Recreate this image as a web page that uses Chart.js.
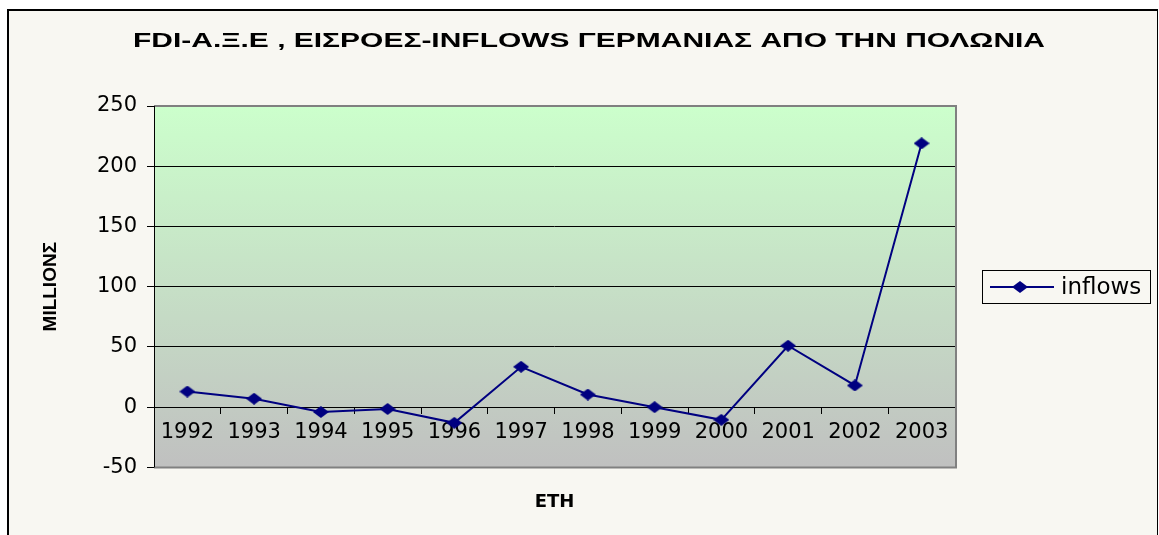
<!DOCTYPE html>
<html>
<head>
<meta charset="utf-8">
<script src="https://cdn.jsdelivr.net/npm/chart.js@4.4.1/dist/chart.umd.min.js"></script>
<style>
html,body{margin:0;padding:0;background:#ffffff;}
#wrap{position:absolute;left:0;top:0;width:1159px;height:535px;}
</style>
</head>
<body>
<div id="wrap"><canvas id="c" width="1159" height="535"></canvas></div>
<script>
const chartTitle = "FDI-Α.Ξ.Ε , ΕΙΣΡΟΕΣ-INFLOWS ΓΕΡΜΑΝΙΑΣ ΑΠΟ ΤΗΝ ΠΟΛΩΝΙΑ";
const yAxisTitle = "MILLIONΣ";
const xAxisTitle = "ΕΤΗ";
const seriesName = "inflows";
const years = ["1992","1993","1994","1995","1996","1997","1998","1999","2000","2001","2002","2003"];
const inflows = [13, 7, -4, -1.5, -13, 33.5, 10.5, 0, -10.5, 51, 18, 219];
const yTicks = [-50, 0, 50, 100, 150, 200, 250];

const NAVY = '#000080';

// diamond marker image (wider than tall, like the original)
function makeDiamond(w, h) {
  const c = document.createElement('canvas');
  c.width = w; c.height = h;
  const g = c.getContext('2d');
  g.fillStyle = NAVY;
  g.beginPath();
  g.moveTo(w/2, 0); g.lineTo(w, h/2); g.lineTo(w/2, h); g.lineTo(0, h/2);
  g.closePath(); g.fill();
  return c;
}
const diamond = makeDiamond(16, 12);

const framePlugin = {
  id: 'frame',
  beforeDraw(chart) {
    const ctx = chart.ctx;
    ctx.save();
    ctx.fillStyle = '#ffffff';
    ctx.fillRect(0, 0, chart.width, chart.height);
    ctx.fillStyle = '#f8f7f2';
    ctx.fillRect(9, 10, 1148, chart.height - 10);
    ctx.fillStyle = '#000000';
    ctx.fillRect(7, 9, 2, chart.height - 9);
    ctx.fillRect(7, 9, 1151, 2);
    ctx.fillRect(1157, 9, 1, chart.height - 9);
    // plot gradient
    const a = chart.chartArea;
    const gr = ctx.createLinearGradient(0, a.top, 0, a.bottom);
    gr.addColorStop(0, '#ccffcc');
    gr.addColorStop(1, '#c0c0c0');
    ctx.fillStyle = gr;
    ctx.fillRect(a.left, a.top, a.right - a.left, a.bottom - a.top);
    ctx.restore();
  },
  beforeDatasetsDraw(chart) {
    const ctx = chart.ctx;
    const a = chart.chartArea;
    ctx.save();
    ctx.strokeStyle = '#808080';
    ctx.lineWidth = 2;
    ctx.beginPath();
    ctx.moveTo(a.left, a.top);
    ctx.lineTo(a.right + 1, a.top);
    ctx.lineTo(a.right + 1, a.bottom);
    ctx.lineTo(a.left, a.bottom);
    ctx.stroke();
    ctx.strokeStyle = '#000000';
    ctx.lineWidth = 1;
    ctx.beginPath();
    ctx.moveTo(a.left + 0.5, a.top);
    ctx.lineTo(a.left + 0.5, a.bottom);
    ctx.stroke();
    ctx.restore();
  },
  afterDraw(chart) {
    const ctx = chart.ctx;
    // title, stretched horizontally like the original
    ctx.save();
    ctx.font = 'bold 21px "Liberation Sans", Arial';
    ctx.fillStyle = '#000000';
    ctx.textBaseline = 'alphabetic';
    ctx.textAlign = 'center';
    const w = ctx.measureText(chartTitle).width;
    const sx = 912 / w;
    ctx.translate(589, 47);
    ctx.scale(sx, 1);
    ctx.fillText(chartTitle, 0, 0);
    ctx.restore();

    // legend box on the right
    const ds = chart.data.datasets[0];
    ctx.save();
    ctx.fillStyle = '#f8f7f2';
    ctx.fillRect(982, 270, 169, 34);
    ctx.strokeStyle = '#000000';
    ctx.lineWidth = 1;
    ctx.strokeRect(982.5, 270.5, 168, 33);
    ctx.strokeStyle = NAVY;
    ctx.lineWidth = 2;
    ctx.beginPath();
    ctx.moveTo(990, 287);
    ctx.lineTo(1054, 287);
    ctx.stroke();
    ctx.drawImage(diamond, 1020 - 8, 287 - 6);
    ctx.fillStyle = '#000000';
    ctx.font = '23px "DejaVu Sans"';
    ctx.textBaseline = 'middle';
    ctx.textAlign = 'left';
    ctx.fillText(ds.label, 1061, 288);
    ctx.restore();
  }
};

new Chart(document.getElementById('c'), {
  type: 'line',
  data: {
    labels: years,
    datasets: [{
      label: seriesName,
      data: inflows,
      borderColor: NAVY,
      backgroundColor: NAVY,
      borderWidth: 2,
      pointStyle: diamond,
      pointRadius: 7,
      tension: 0,
      yAxisID: 'y'
    }]
  },
  options: {
    responsive: false,
    animation: false,
    layout: { padding: { left: 18, right: 0, top: 106, bottom: 0 } },
    plugins: {
      legend: { display: false },
      tooltip: { enabled: false },
      title: { display: false },
      subtitle: {
        display: true,
        position: 'bottom',
        fullSize: false,
        text: xAxisTitle,
        color: '#000000',
        font: { family: '"DejaVu Sans"', size: 18, weight: 'bold', lineHeight: 1.2 },
        padding: { top: 24, bottom: 22 }
      }
    },
    scales: {
      x: {
        type: 'category',
        position: { y: 0 },
        offset: true,
        border: { display: true, color: '#000000', width: 1 },
        grid: { display: true, offset: true, drawOnChartArea: false, drawTicks: true, tickLength: 6, color: '#000000' },
        ticks: { color: '#000000', padding: 7, font: { family: '"DejaVu Sans"', size: 21 }, maxRotation: 0, autoSkip: false }
      },
      y: {
        min: -50,
        max: 250,
        afterBuildTicks(scale) { scale.ticks = yTicks.map(v => ({ value: v })); },
        afterFit(scale) { scale.width = 136; },
        border: { display: false },
        grid: { color: '#000000', lineWidth: 1, tickLength: 7 },
        ticks: { color: '#000000', padding: 10, font: { family: '"DejaVu Sans"', size: 21 } },
        title: {
          display: true,
          text: yAxisTitle,
          color: '#000000',
          font: { family: '"Liberation Sans", Arial', size: 19, weight: 'bold' },
          padding: { top: 21, bottom: 0 }
        }
      },
      yRight: {
        type: 'linear',
        position: 'right',
        display: true,
        afterFit(scale) { scale.width = 204; },
        border: { display: false },
        grid: { display: false, drawTicks: false },
        ticks: { display: false }
      }
    }
  },
  plugins: [framePlugin]
});
</script>
</body>
</html>
